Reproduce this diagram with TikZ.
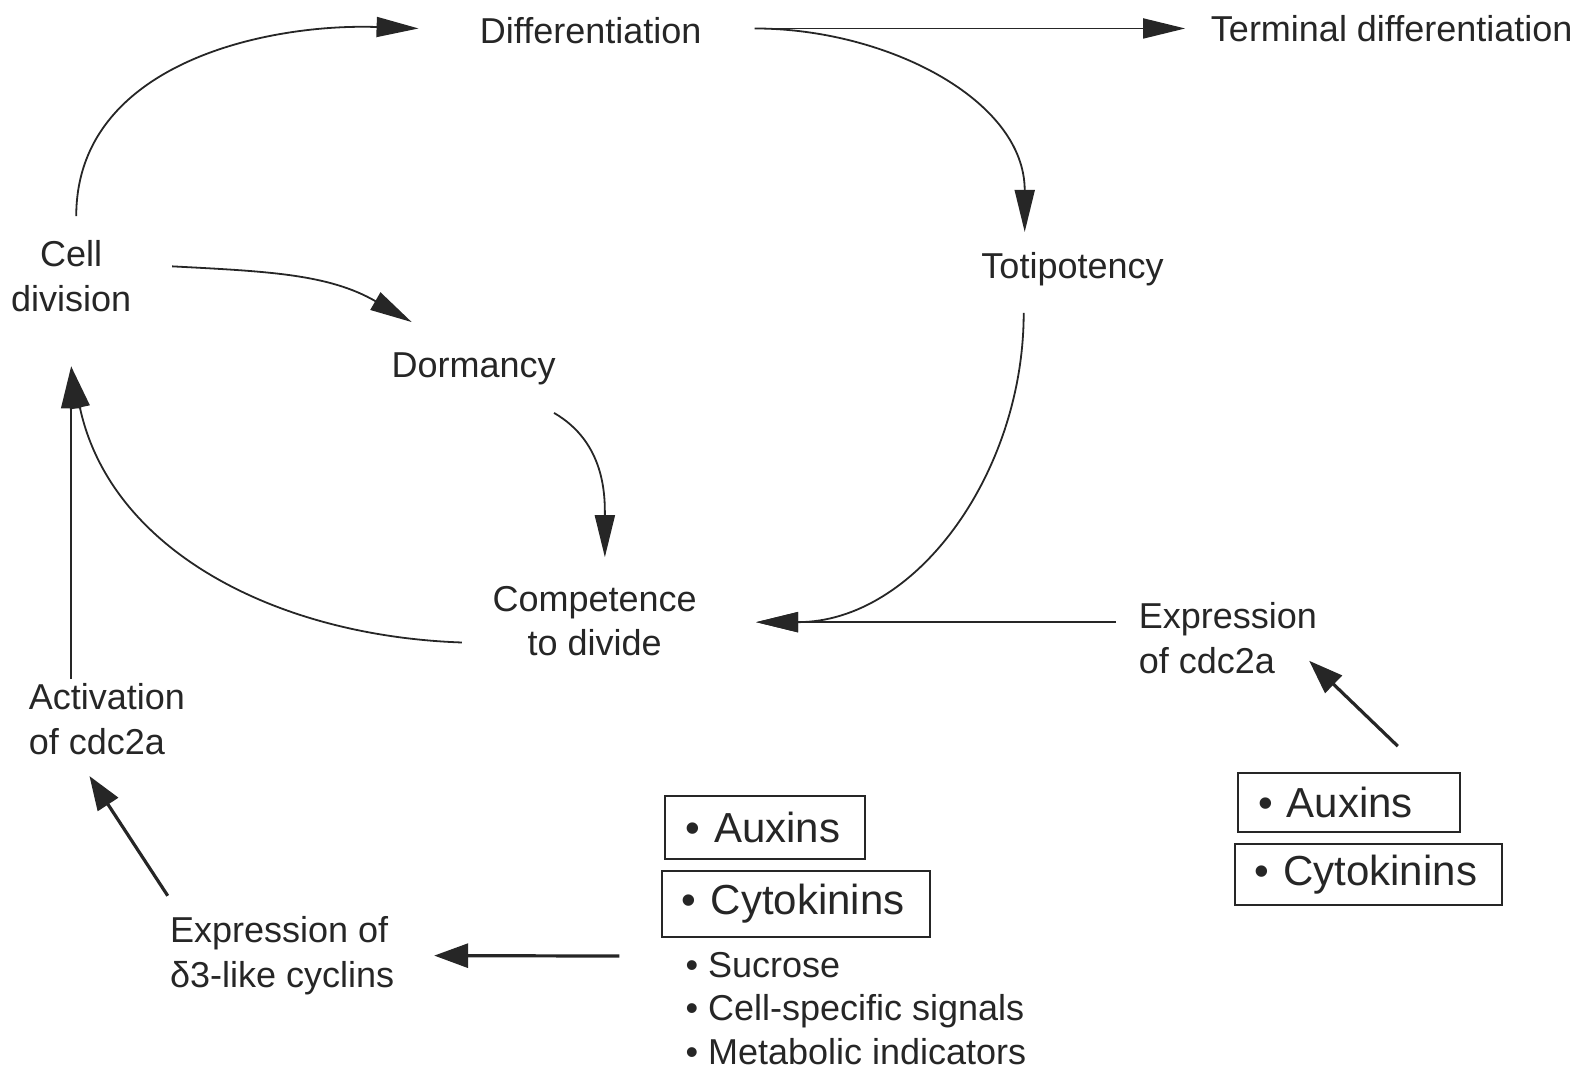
\documentclass[tikz,border=0pt]{standalone}
\usepackage{fontspec}
\setmainfont{Liberation Sans}
\usetikzlibrary{arrows.meta,calc}

\begin{document}
\begin{tikzpicture}[x=0.5083pt,y=-0.5083pt,
  lbl/.style={inner sep=2pt,text=black!85,font=\fontsize{18}{22.4}\selectfont},
  box/.style={draw=black!85,line width=1pt,inner xsep=10pt,inner ysep=2pt,align=left,text=black!85,font=\fontsize{21}{25}\selectfont},
  flow/.style={draw=black!85,line width=0.9pt,-{Triangle[length=21pt,width=10pt]}},
  push/.style={draw=black!85,line width=1.6pt,-{Triangle[length=17pt,width=12pt]}}]
\useasboundingbox (0,0) rectangle (1568,1054);
\node (1) at (581,30) [lbl] {Differentiation};
\node (2) at (1369,28) [lbl] {Terminal differentiation};
\node (3) at (70,272) [lbl,align=center] {Cell\\division};
\node (4) at (1055,265) [lbl] {Totipotency};
\node (5) at (466,363) [lbl] {Dormancy};
\node (6) at (585,611) [lbl,align=center] {Competence\\to divide};
\node (7) at (1116,628) [lbl,anchor=west,align=left] {Expression\\of cdc2a};
\node (8) at (24,707) [lbl,anchor=west,align=left] {Activation\\of cdc2a};
\node (9) at (163,940) [lbl,anchor=west,align=left] {Expression of\\δ3-like cyclins};
\node (10) at (753,814) [box,text width=80pt,minimum height=31.5pt] {\mbox{• Auxins}};
\node (11) at (783,889) [box,text width=114pt,minimum height=33pt] {\mbox{• Cytokinins}};
\node (12) at (670,932) [lbl,anchor=north west,align=left,font=\fontsize{18}{21.9}\selectfont] {• Sucrose\\• Cell-specific signals\\• Metabolic indicators};
\node (13) at (1327,789) [box,text width=91pt,minimum height=29.5pt] {\mbox{• Auxins}};
\node (14) at (1346,860) [box,text width=113.7pt,minimum height=30.5pt] {\mbox{• Cytokinins}};
\draw[flow] ($(3.north)+(5,-20)$) to[out=90,in=178] ($(1.west)+(-56,-2)$);
\draw[flow] ($(1.east)+(48,-2)$) -- ($(2.west)+(-21,0)$);
\draw[flow] ($(1.east)+(48,-2)$) to[out=0,in=90] ($(4.north)+(-47,-16)$);
\draw[flow] ($(3.east)+(36,-10)$) to[out=-3,in=150] ($(5.north)+(-61,-26)$);
\draw[flow] ($(5.south)+(79,23)$) to[out=-30,in=90] ($(6.north)+(10,-24)$);
\draw[flow] ($(4.south)+(-48,22)$) to[out=-90,in=0] ($(6.east)+(54,1)$);
\draw[flow] ($(7.west)+(-18,-16)$) -- ($(6.east)+(54,1)$);
\draw[flow] ($(6.west)+(-26,21)$) to[out=178,in=-78] ($(3.south)+(0,49)$);
\draw[flow] (8.north -| 3.south) -- ($(3.south)+(0,49)$);
\draw[push] ($(9.north west)+(2,-16)$) -- ($(8.south west)+(64,17)$);
\draw[push] ($(11.south west)+(-41,18)$) -- ($(9.east)+(35,0)$);
\draw[push] ($(13.north)+(48,-25)$) -- ($(7.east)+(-12,22)$);
\end{tikzpicture}
\end{document}
